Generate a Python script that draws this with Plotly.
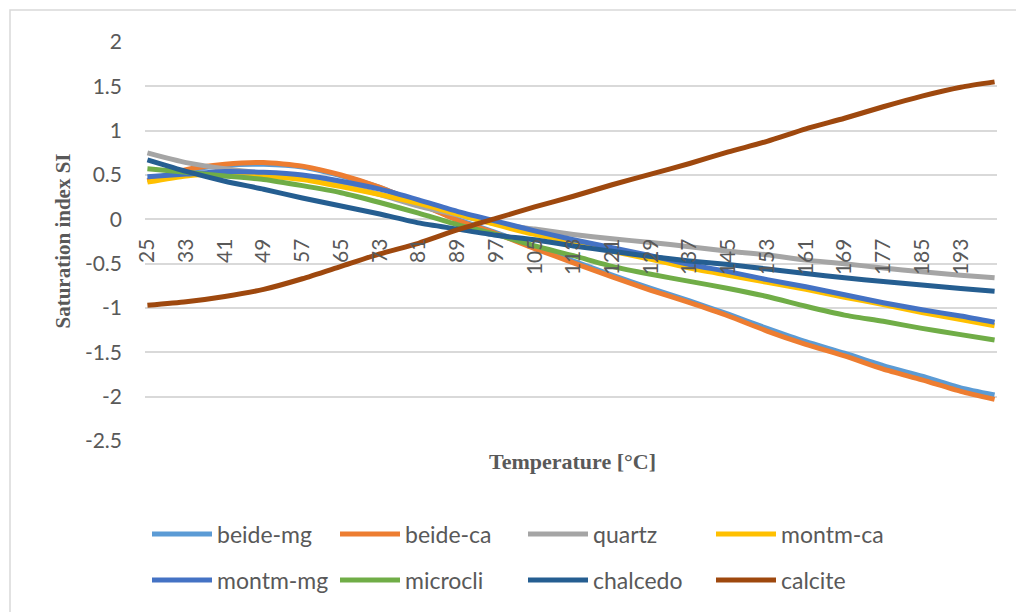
import plotly.graph_objects as go

# ---- data ----
temperature = [25, 33, 41, 49, 57, 65, 73, 81, 89, 97, 105, 113, 121, 129, 137,
               145, 153, 161, 169, 177, 185, 193, 200]

beide_mg = [0.44, 0.55, 0.61, 0.62, 0.59, 0.49, 0.36, 0.18, 0.00, -0.15, -0.31, -0.47,
            -0.63, -0.78, -0.92, -1.07, -1.23, -1.38, -1.51, -1.65, -1.77, -1.90, -1.98]
beide_ca = [0.43, 0.56, 0.62, 0.64, 0.60, 0.50, 0.36, 0.18, -0.01, -0.16, -0.33, -0.49,
            -0.65, -0.80, -0.94, -1.09, -1.26, -1.41, -1.54, -1.69, -1.81, -1.94, -2.03]
quartz = [0.75, 0.64, 0.57, 0.52, 0.47, 0.39, 0.28, 0.15, 0.05, -0.05, -0.11, -0.17,
          -0.22, -0.26, -0.31, -0.36, -0.40, -0.46, -0.50, -0.55, -0.59, -0.63, -0.66]
montm_ca = [0.42, 0.49, 0.51, 0.49, 0.45, 0.37, 0.28, 0.18, 0.06, -0.06, -0.17, -0.26,
            -0.36, -0.45, -0.55, -0.63, -0.71, -0.79, -0.88, -0.96, -1.05, -1.13, -1.20]
montm_mg = [0.48, 0.51, 0.54, 0.53, 0.50, 0.43, 0.34, 0.22, 0.09, -0.02, -0.13, -0.23,
            -0.32, -0.41, -0.51, -0.59, -0.68, -0.76, -0.85, -0.94, -1.02, -1.09, -1.16]
microcli = [0.57, 0.53, 0.49, 0.45, 0.38, 0.30, 0.19, 0.07, -0.06, -0.17, -0.30, -0.41,
            -0.53, -0.62, -0.70, -0.78, -0.87, -0.98, -1.08, -1.15, -1.23, -1.30, -1.36]
chalcedo = [0.67, 0.54, 0.43, 0.34, 0.24, 0.15, 0.06, -0.04, -0.11, -0.18, -0.23, -0.30,
            -0.36, -0.42, -0.47, -0.51, -0.56, -0.61, -0.66, -0.70, -0.74, -0.78, -0.81]
calcite = [-0.97, -0.93, -0.87, -0.79, -0.67, -0.53, -0.39, -0.27, -0.12, 0.01, 0.14, 0.26,
           0.39, 0.51, 0.63, 0.76, 0.88, 1.02, 1.14, 1.27, 1.39, 1.49, 1.55]

series_names = ["beide-mg", "beide-ca", "quartz", "montm-ca",
                "montm-mg", "microcli", "chalcedo", "calcite"]
series_values = [beide_mg, beide_ca, quartz, montm_ca,
                 montm_mg, microcli, chalcedo, calcite]
series_colors = ["#5B9BD5", "#ED7D31", "#A5A5A5", "#FFC000",
                 "#4472C4", "#70AD47", "#255E91", "#9E480E"]

x_tick_values = [25, 33, 41, 49, 57, 65, 73, 81, 89, 97, 105, 113, 121, 129,
                 137, 145, 153, 161, 169, 177, 185, 193]
y_tick_values = [2, 1.5, 1, 0.5, 0, -0.5, -1, -1.5, -2, -2.5]
y_tick_text = ["2", "1.5", "1", "0.5", "0", "-0.5", "-1", "-1.5", "-2", "-2.5"]

# ---- figure ----
W, H = 1016, 612
ML, MR, MT, MB = 145, 19, 42, 170
PW, PH = W - ML - MR, H - MT - MB


def px_x(px):
    return (px - ML) / PW


def px_y(py):
    return (H - MB - py) / PH


GRAY = "#595959"
TICK_FONT = dict(family="Lato", size=21, color=GRAY)

fig = go.Figure()
for i, (name, vals, col) in enumerate(zip(series_names, series_values, series_colors)):
    fig.add_trace(go.Scatter(
        x=temperature, y=vals, name=name, mode="lines",
        line=dict(color=col, width=5, shape="spline", smoothing=0.6),
        legend="legend" if i < 4 else "legend2",
    ))

y_min, y_max = -2.5, 2.0
legend_common = dict(
    orientation="h", font=dict(family="Lato", size=23, color=GRAY),
    itemwidth=60, entrywidth=113, entrywidthmode="pixels",
    xanchor="left", yanchor="middle", bgcolor="rgba(0,0,0,0)",
    traceorder="normal",
)

fig.update_layout(
    width=W, height=H,
    margin=dict(l=ML, r=MR, t=MT, b=MB),
    paper_bgcolor="white", plot_bgcolor="white",
    xaxis=dict(
        range=[24.5, 200.5], tickmode="array", tickvals=x_tick_values,
        tickangle=-90, tickfont=TICK_FONT, showgrid=False, zeroline=False,
        showline=False, ticks="", anchor="free",
        position=(0 - y_min) / (y_max - y_min), ticklabelstandoff=14,
    ),
    yaxis=dict(
        range=[y_min, y_max], tickmode="array", tickvals=y_tick_values,
        ticktext=y_tick_text, tickfont=TICK_FONT, showgrid=True,
        gridcolor="#D9D9D9", gridwidth=1.5, zeroline=False, showline=False,
        ticks="", ticklabelstandoff=22,
    ),
    legend=dict(x=px_x(147), y=px_y(534), **legend_common),
    legend2=dict(x=px_x(147), y=px_y(580), **legend_common),
    showlegend=True,
)

fig.add_annotation(
    text="<b>Saturation index SI</b>", xref="paper", yref="paper",
    x=px_x(62), y=px_y(242), xanchor="center", yanchor="middle",
    textangle=-90, showarrow=False,
    font=dict(family="Liberation Serif", size=21, color=GRAY),
)
fig.add_annotation(
    text="<b>Temperature [°C]</b>", xref="paper", yref="paper",
    x=px_x(572), y=px_y(463), xanchor="center", yanchor="middle",
    showarrow=False,
    font=dict(family="Liberation Serif", size=22, color=GRAY),
)
fig.add_shape(
    type="rect", xref="paper", yref="paper",
    x0=px_x(10), x1=px_x(1040), y0=px_y(640), y1=px_y(10),
    line=dict(color="#D9D9D9", width=1.5), fillcolor="rgba(0,0,0,0)", layer="below",
)

fig.write_html("out.html")
